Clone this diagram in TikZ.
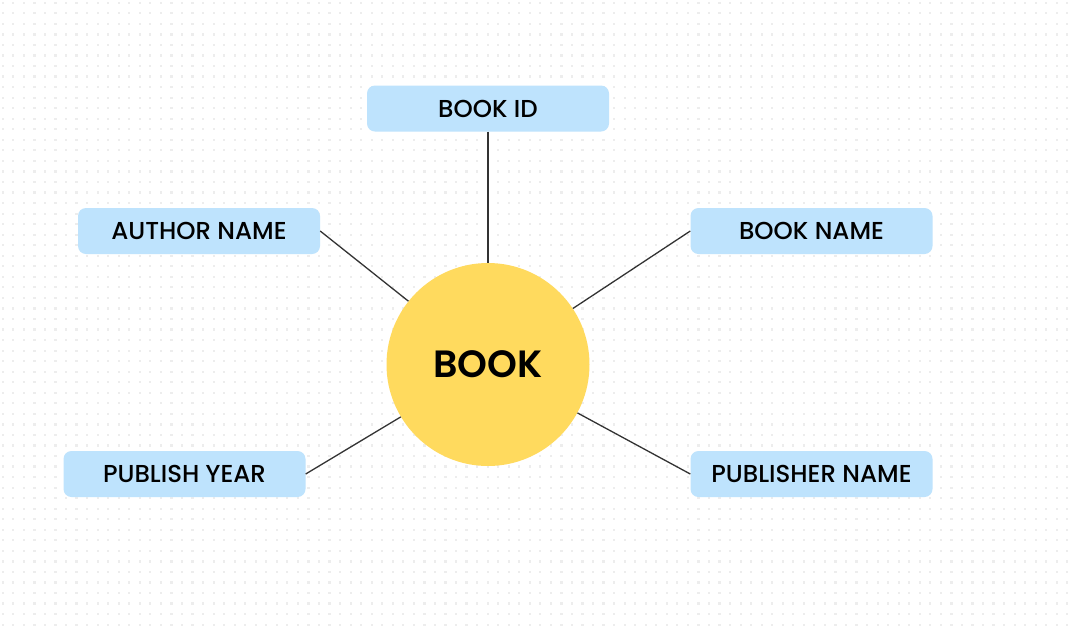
\documentclass[tikz,border=0pt]{standalone}
\usepackage{fontspec}
\setmainfont{Poppins}[BoldFont={Poppins Medium}]
\newfontfamily\heavyfont{Poppins SemiBold}
\definecolor{boxblue}{HTML}{BEE3FD}
\definecolor{circyellow}{HTML}{FFDA5E}
\definecolor{dotgray}{HTML}{EDEDED}
\definecolor{linegray}{HTML}{333333}
\tikzset{
  attr/.style={fill=boxblue, rounded corners=8pt, minimum width=242pt, minimum height=46pt, inner sep=0pt, font=\bfseries\fontsize{24.5}{26}\selectfont, text=black},
  entity/.style={circle, fill=circyellow, minimum size=203pt, inner sep=0pt, font=\heavyfont\fontsize{38}{41}\selectfont, text=black},
  link/.style={draw=linegray, line width=1.3pt}
}
\begin{document}
\begin{tikzpicture}[x=1pt,y=-1pt]
\useasboundingbox (0,0) rectangle (1077,633);
\fill[white] (0,0) rectangle (1077,633);
\foreach \i in {0,...,101}{
  \foreach \j in {0,...,59}{
    \fill[dotgray] ({2.8+10.54*\i-1.1},{2.8+10.54*\j-1.1}) rectangle ++(2.2,2.2);
  }
}
\node[entity] (book) at (488,364.5) {BOOK};
\node[attr] (bid) at (488,108.5) {BOOK ID};
\node[attr] (aname) at (199,231) {AUTHOR NAME};
\node[attr] (bname) at (811.5,231) {BOOK NAME};
\node[attr] (pyear) at (184.5,474) {PUBLISH YEAR};
\node[attr] (pname) at (811.5,474) {PUBLISHER NAME};
\draw[link] (bid.south) -- (book);
\draw[link] (aname.east) -- (book);
\draw[link] (bname.west) -- (book);
\draw[link] (pyear.east) -- (book);
\draw[link] (pname.west) -- (book);
\end{tikzpicture}
\end{document}
